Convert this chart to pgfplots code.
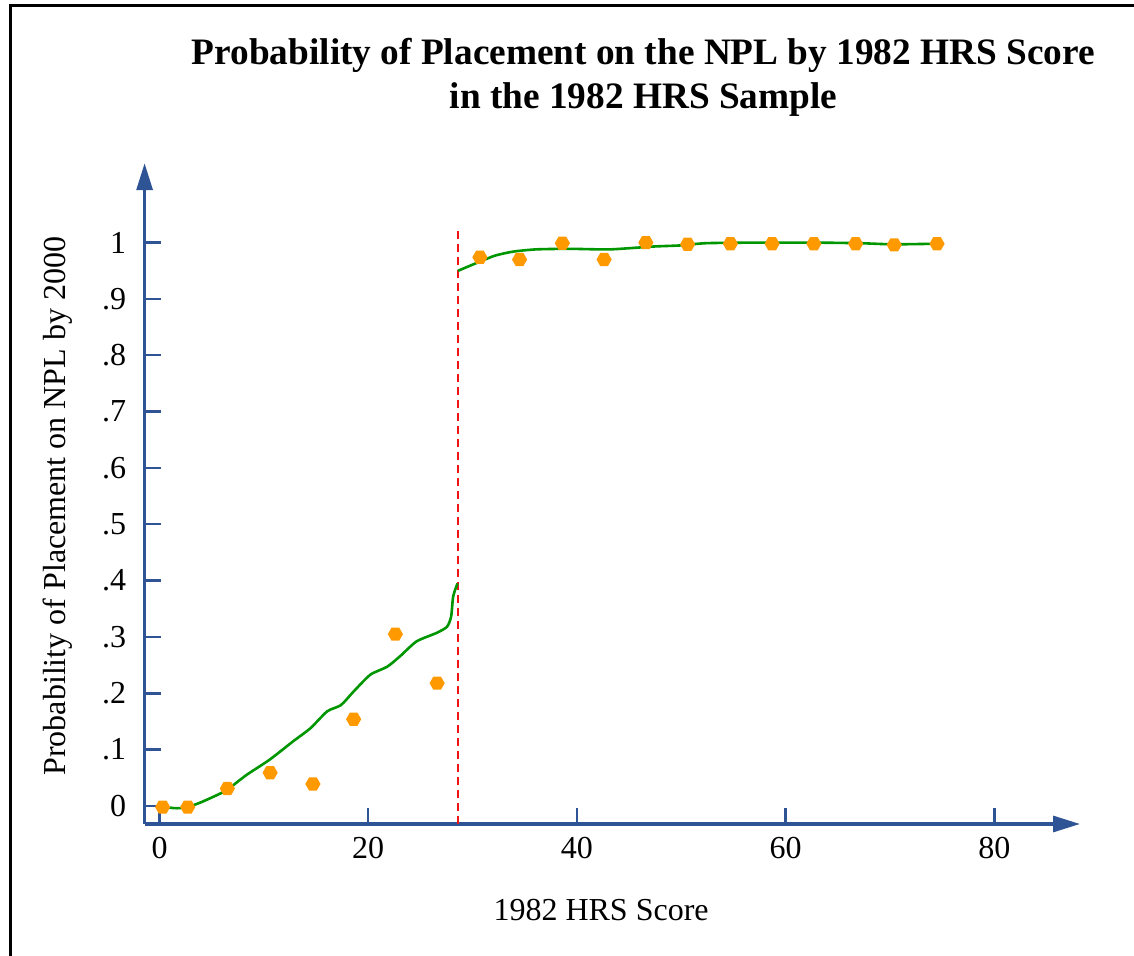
\documentclass[border=0pt]{standalone}
\usepackage{pgfplots}
\pgfplotsset{compat=1.18}
\usepackage{fontspec}
\setmainfont{Liberation Serif}
\usetikzlibrary{arrows.meta}
\definecolor{axisblue}{RGB}{47,84,150}
\definecolor{dotorange}{RGB}{255,153,0}
\definecolor{linegreen}{RGB}{0,150,0}
\definecolor{cutred}{RGB}{240,20,20}
\pgfdeclareplotmark{hexagon*}{%
  \pgfpathmoveto{\pgfpointpolar{0}{\pgfplotmarksize}}%
  \pgfpathlineto{\pgfpointpolar{60}{\pgfplotmarksize}}%
  \pgfpathlineto{\pgfpointpolar{120}{\pgfplotmarksize}}%
  \pgfpathlineto{\pgfpointpolar{180}{\pgfplotmarksize}}%
  \pgfpathlineto{\pgfpointpolar{240}{\pgfplotmarksize}}%
  \pgfpathlineto{\pgfpointpolar{300}{\pgfplotmarksize}}%
  \pgfpathclose
  \pgfusepathqfill}
\begin{document}
\begin{tikzpicture}
\useasboundingbox (-72.3pt,-66pt) rectangle (494.7pt,412pt);
\draw[line width=1.5pt] (-66.8pt,-70pt) |- (500pt,409pt);
\begin{axis}[
  at={(0pt,0pt)}, anchor=south west,
  scale only axis, width=467.7pt, height=330.4pt,
  xmin=-1.43, xmax=88.2, ymin=-0.032, ymax=1.141,
  axis lines=left,
  axis line style={draw=axisblue, line width=1.6pt},
  x axis line style={-{Triangle[length=13.5pt,width=8pt]}},
  y axis line style={-{Triangle[length=13.5pt,width=8pt]}},
  xtick={0,20,40,60,80},
  ytick={0,0.1,0.2,0.3,0.4,0.5,0.6,0.7,0.8,0.9,1},
  yticklabels={0,.1,.2,.3,.4,.5,.6,.7,.8,.9,1},
  tick align=inside,
  major tick length=8pt,
  tick style={draw=axisblue, line width=1.2pt},
  /pgf/number format/assume math mode=true,
  ticklabel style={font=\fontsize{16}{19}\selectfont},
  xticklabel style={yshift=-3.2pt},
  yticklabel style={xshift=-5.7pt},
  xlabel={1982 HRS Score},
  xlabel style={font=\fontsize{16}{19}\selectfont, at={(axis description cs:0.488,0)}, anchor=base, yshift=-48.5pt},
  ylabel={Probability of Placement on NPL by 2000},
  ylabel style={font=\fontsize{16}{19}\selectfont, at={(axis description cs:-0.0841,0.481)}, anchor=base, rotate=0},
  clip=false,
]
\addplot[cutred, line width=1.1pt, dash pattern=on 4pt off 2.5pt] coordinates {(28.6,-0.032) (28.6,1.026)};
\addplot[linegreen, line width=1.3pt, smooth, tension=0.4] coordinates {
(0.3,0.0) (1.0,-0.003) (1.7,-0.004) (2.7,-0.002) (3.9,0.006) (5.0,0.015)
(6.42,0.028) (8.33,0.055) (10.54,0.082) (12.75,0.114) (14.46,0.138) (16.07,0.168)
(17.38,0.179) (18.59,0.203) (20.2,0.233) (21.8,0.247) (23.0,0.265) (24.62,0.292)
(26.53,0.307) (27.54,0.318) (27.94,0.336) (28.14,0.372) (28.55,0.395)};
\addplot[linegreen, line width=1.3pt, smooth, tension=0.4] coordinates {
(28.6,0.950) (30.66,0.966) (32.16,0.977) (33.87,0.984) (36.08,0.988) (39.3,0.989)
(43.13,0.988) (47.25,0.993) (49.87,0.995) (52.38,0.999) (56.9,1.0) (62.74,1.0)
(67.06,0.999) (70.28,0.997) (74.4,0.998)};
\addplot[only marks, mark=hexagon*, mark size=3.8pt, color=dotorange] coordinates {
(0.3,-0.002) (2.7,-0.002) (6.5,0.031) (10.6,0.059) (14.7,0.039) (18.6,0.154)
(22.6,0.305) (26.6,0.218) (30.7,0.974) (34.5,0.970) (38.6,0.999) (42.6,0.970)
(46.6,1.0) (50.6,0.997) (54.7,0.998) (58.7,0.998) (62.7,0.998) (66.7,0.998)
(70.4,0.996) (74.5,0.998)};
\node[font=\bfseries\fontsize{18.65}{22}\selectfont, anchor=base] at (axis description cs:0.5333,1.150) {Probability of Placement on the NPL by 1982 HRS Score};
\node[font=\bfseries\fontsize{18.65}{22}\selectfont, anchor=base] at (axis description cs:0.5333,1.0835) {in the 1982 HRS Sample};
\end{axis}
\end{tikzpicture}
\end{document}
